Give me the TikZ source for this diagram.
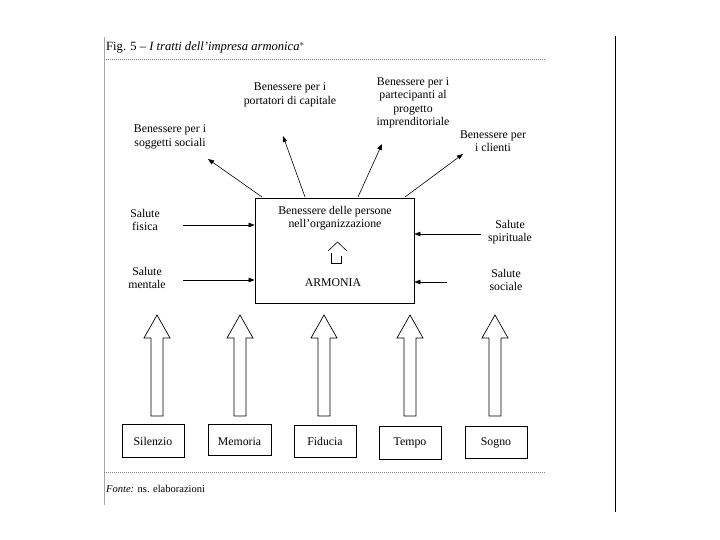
\documentclass[tikz,border=0pt]{standalone}
\usepackage{fontspec}
\setmainfont{Liberation Serif}
\usetikzlibrary{arrows.meta}
\begin{document}
\begin{tikzpicture}[x=1pt,y=-1pt,
  lbl/.style={align=center,font=\fontsize{11.8}{13.5}\selectfont,inner sep=0pt},
  conn/.style={line width=0.6pt,-{Triangle[length=6pt,width=4.5pt]}},
  box/.style={draw,line width=0.8pt,inner sep=0pt},
  rule/.style={gray,line width=1pt,dash pattern=on 1.2pt off 0.8pt},
  hollowup/.pic={\draw[line width=0.7pt] (-6,101) -- (-6,23) -- (-13,23) -- (0,0) -- (13,23) -- (6,23) -- (6,101) -- cycle;}
]
\useasboundingbox (0,0) rectangle (720,540);
% frame lines
\draw[gray!70,line width=0.8pt] (104,37) -- (104,505);
\draw[line width=0.8pt] (615,36) -- (615,512);
% title
\node[anchor=base west,inner sep=0pt,font=\fontsize{12.6}{15}\selectfont] (title) at (106,51) {Fig. 5 -- \textit{I tratti dell'impresa armonica}$^{*}$};
\draw[rule] (106,60) -- (545,60);
% central box
\node[box,minimum width=159pt,minimum height=105pt] (core) at (334.5,250.5) {};
\node[lbl] (ben) at (335,218) {Benessere delle persone\\nell'organizzazione};
\node[lbl] (arm) at (333,283) {ARMONIA};
\draw[line width=0.6pt] (328,251) -- (337.5,242) -- (347,251);
\draw[line width=0.6pt] (331,253) -- (331,263) -- (341,263) -- (341,256);
% top labels
\node[lbl] (sog) at (170,137) {Benessere per i\\soggetti sociali};
\node[lbl] (por) at (290,95) {Benessere per i\\portatori di capitale};
\node[lbl] (par) at (413,103) {Benessere per i\\partecipanti al\\progetto\\imprenditoriale};
\node[lbl] (cli) at (493,141) {Benessere per\\i clienti};
\coordinate (s1) at (262,197); \coordinate (t1) at (208,159);
\coordinate (s2) at (305,197); \coordinate (t2) at (283,136);
\coordinate (s3) at (358,197); \coordinate (t3) at (382,144);
\coordinate (s4) at (405,197); \coordinate (t4) at (463,154);
\draw[conn] (s1) -- (t1);
\draw[conn] (s2) -- (t2);
\draw[conn] (s3) -- (t3);
\draw[conn] (s4) -- (t4);
% side labels
\node[lbl] (fis) at (145,220) {Salute\\fisica};
\node[lbl] (men) at (147,278) {Salute\\mentale};
\node[lbl] (spi) at (510,232) {Salute\\spirituale};
\node[lbl] (soc) at (506,280) {Salute\\sociale};
\draw[conn] (183,225) -- (core.west |- 0,225);
\draw[conn] (183,280) -- (core.west |- 0,280);
\draw[conn] (481,234) -- (core.east |- 0,234);
\draw[conn] (447,282) -- (core.east |- 0,282);
% bottom boxes
\node[box,minimum width=62pt,minimum height=33pt] (sil) at (153,440.5) {};
\node[box,minimum width=63pt,minimum height=31pt] (mem) at (239.5,439.5) {};
\node[box,minimum width=62pt,minimum height=32pt] (fid) at (325,441) {};
\node[box,minimum width=62pt,minimum height=33pt] (tem) at (410,442.5) {};
\node[box,minimum width=62pt,minimum height=32pt] (sgn) at (496,442) {};
\node[lbl,anchor=base] at (sil.center |- 0,445) {Silenzio};
\node[lbl,anchor=base] at (mem.center |- 0,445) {Memoria};
\node[lbl,anchor=base] at (fid.center |- 0,445) {Fiducia};
\node[lbl,anchor=base] at (tem.center |- 0,445) {Tempo};
\node[lbl,anchor=base] at (sgn.center |- 0,445) {Sogno};
% hollow arrows
\pic at (157,315) {hollowup};
\pic at (240,315) {hollowup};
\pic at (324,315) {hollowup};
\pic at (410,315) {hollowup};
\pic at (495,315) {hollowup};
% bottom rule and source
\draw[rule] (104,472) -- (545,472);
\node[anchor=base west,inner sep=0pt,font=\fontsize{10.5}{13}\selectfont] (fonte) at (106,492) {\textit{Fonte:} ns. elaborazioni};
\end{tikzpicture}
\end{document}
